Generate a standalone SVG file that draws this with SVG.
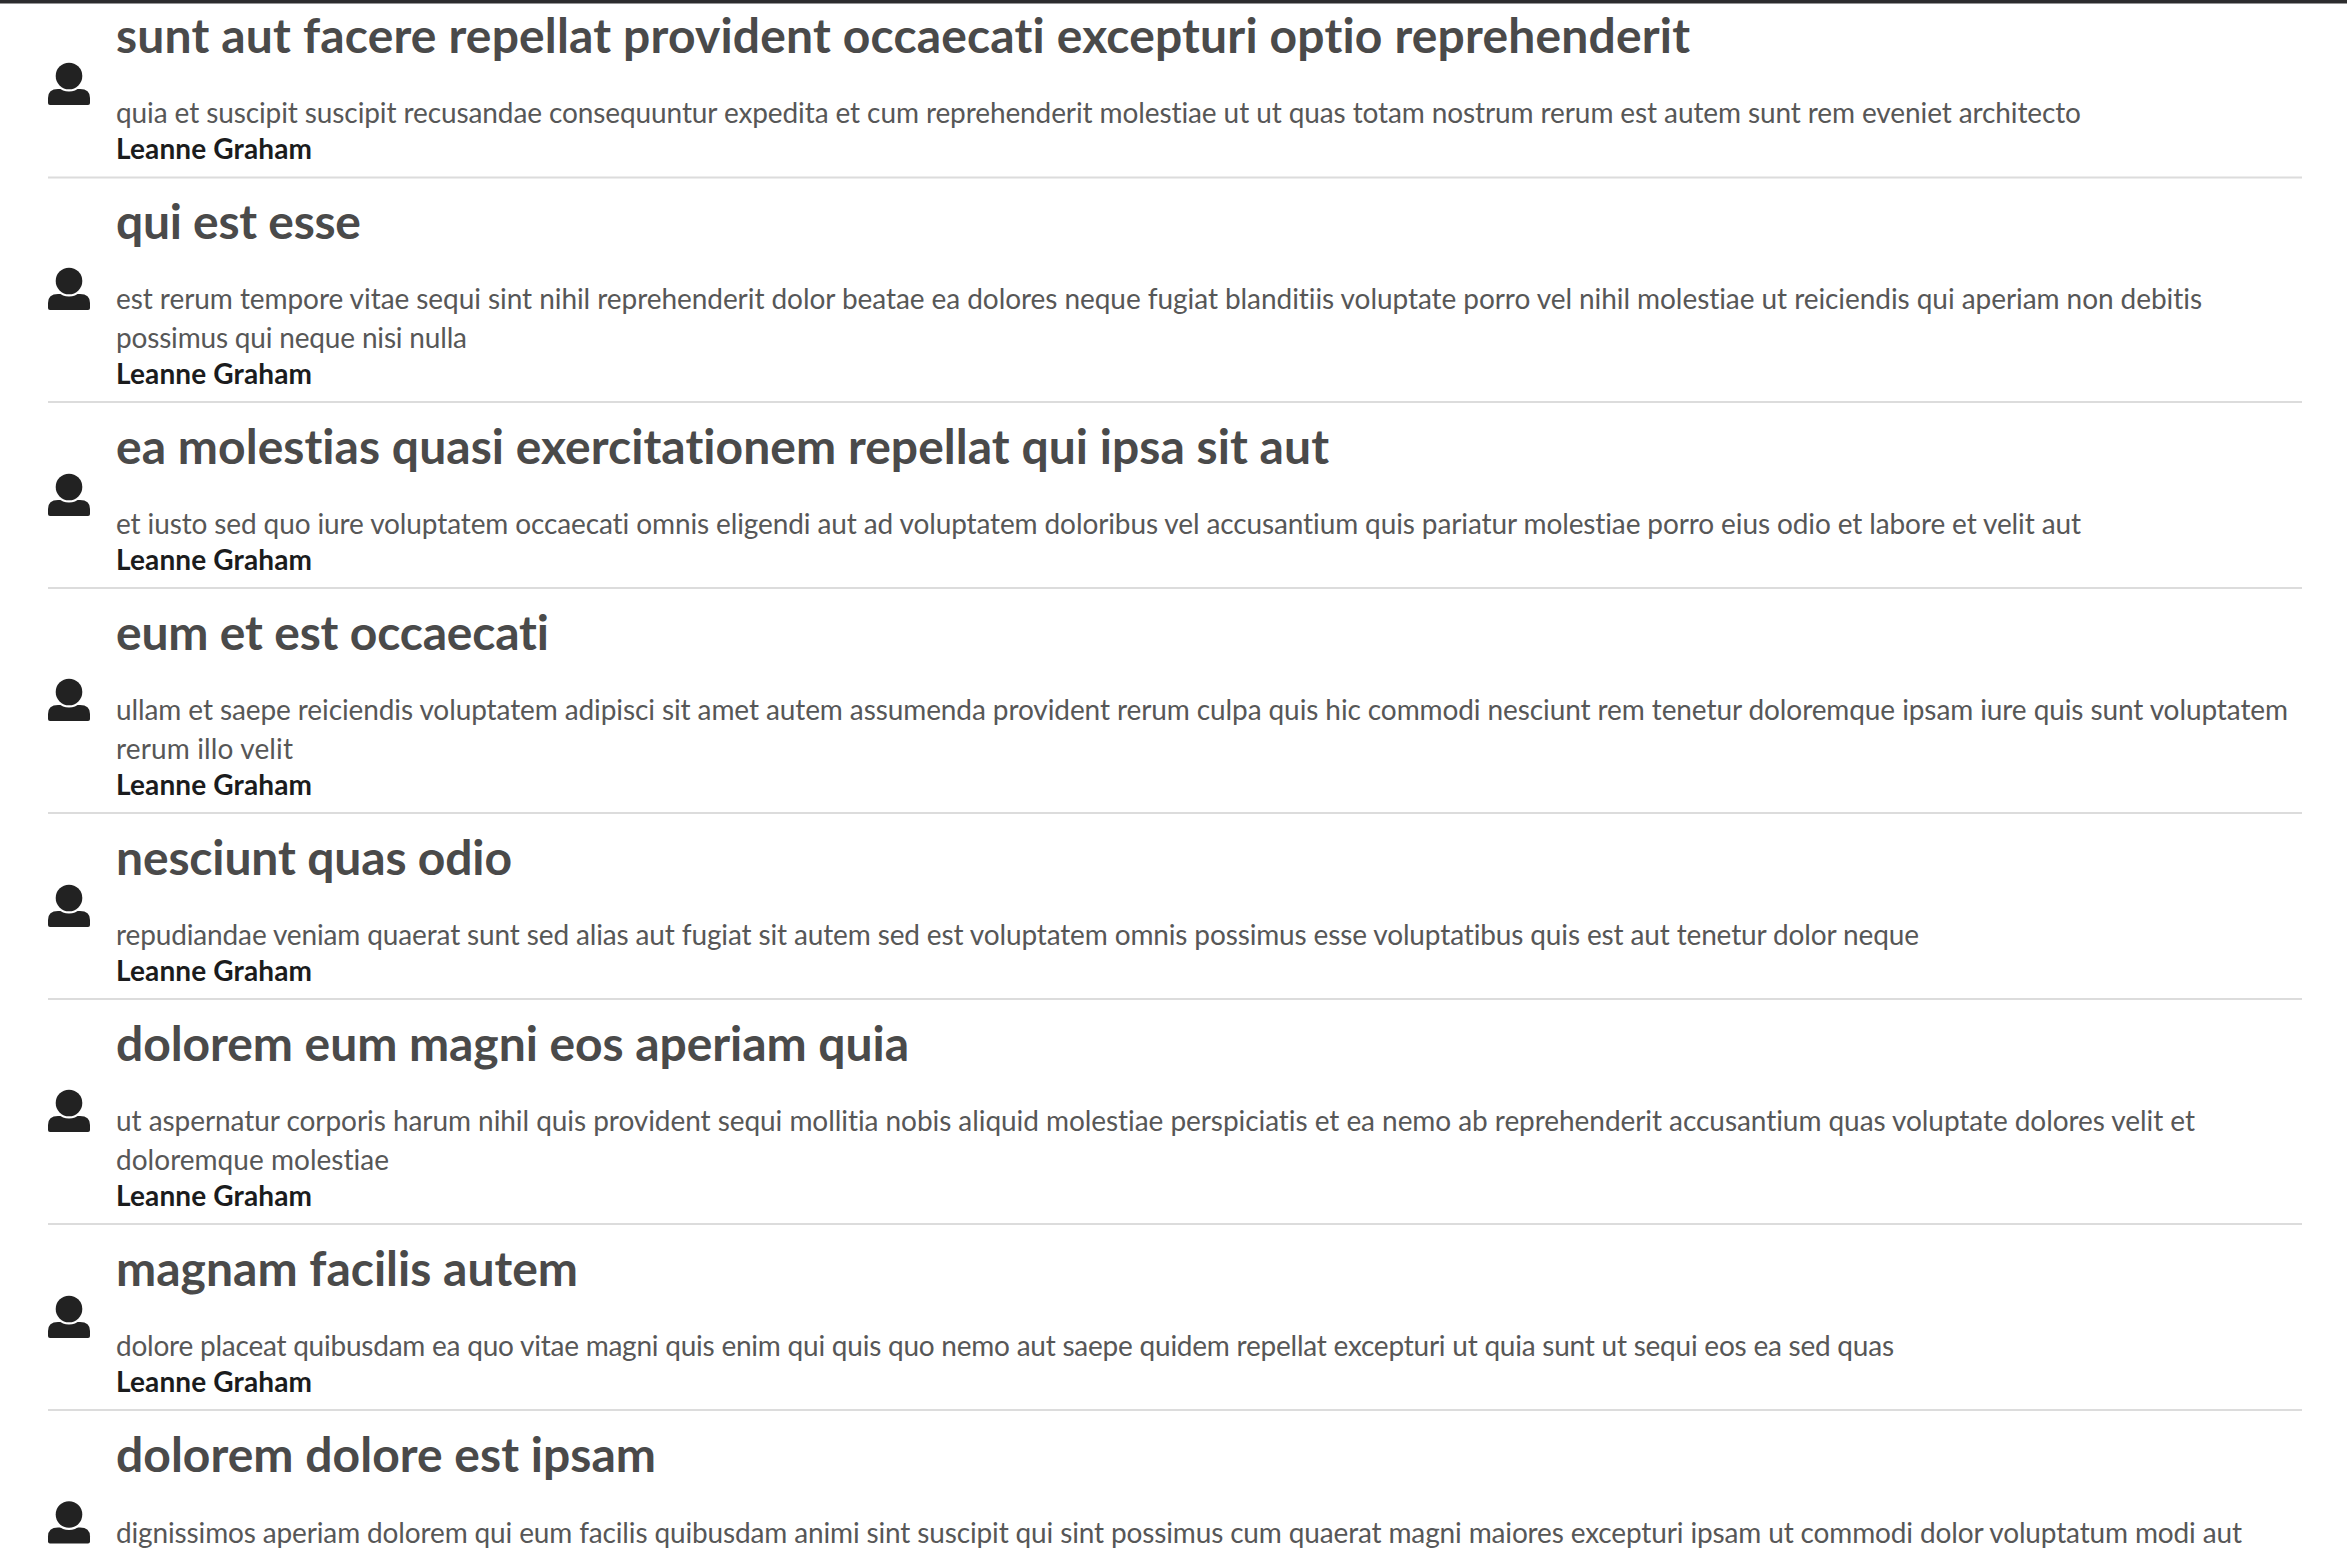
<svg xmlns="http://www.w3.org/2000/svg" width="2347" height="1560" viewBox="0 0 2347 1560">
<style>
text{font-family:Lato,"Open Sans","Liberation Sans",sans-serif;font-variant-ligatures:none}
.t{font-size:48px;font-weight:700;fill:#4a4a4a}
.b{font-size:28px;font-weight:400;fill:#575757}
.a{font-size:28px;font-weight:700;fill:#1b1c1d}
.s{fill:#dcdcdc}
</style>
<defs>
<g id="user"><path d="M48 103V98Q48 89 58 89H80Q90 89 90 98V103Q90 105 88 105H50Q48 105 48 103Z" fill="#222"/><circle cx="69" cy="76" r="15.500" fill="#fff"/><circle cx="69" cy="76" r="13.300" fill="#222"/></g>
</defs>
<rect width="2347" height="1560" fill="#fff"/>
<rect id="topbar" width="2347" height="3.500" fill="#2c2c2e"/>
<g id="item1"><use href="#user"/><text class="t" x="116" y="53" textLength="1574">sunt aut facere repellat provident occaecati excepturi optio reprehenderit</text><text class="b" x="116" y="123" textLength="1965">quia et suscipit suscipit recusandae consequuntur expedita et cum reprehenderit molestiae ut ut quas totam nostrum rerum est autem sunt rem eveniet architecto</text><text class="a" x="116" y="159" textLength="196">Leanne Graham</text><rect class="s" x="48" y="176.500" width="2254" height="2"/></g>
<g id="item2"><use href="#user" y="205"/><text class="t" x="116" y="239" textLength="245">qui est esse</text><text class="b" x="116" y="309" textLength="2086">est rerum tempore vitae sequi sint nihil reprehenderit dolor beatae ea dolores neque fugiat blanditiis voluptate porro vel nihil molestiae ut reiciendis qui aperiam non debitis</text><text class="b" x="116" y="348" textLength="351">possimus qui neque nisi nulla</text><text class="a" x="116" y="384" textLength="196">Leanne Graham</text><rect class="s" x="48" y="401" width="2254" height="2"/></g>
<g id="item3"><use href="#user" y="411"/><text class="t" x="116" y="464" textLength="1213">ea molestias quasi exercitationem repellat qui ipsa sit aut</text><text class="b" x="116" y="534" textLength="1965">et iusto sed quo iure voluptatem occaecati omnis eligendi aut ad voluptatem doloribus vel accusantium quis pariatur molestiae porro eius odio et labore et velit aut</text><text class="a" x="116" y="570" textLength="196">Leanne Graham</text><rect class="s" x="48" y="587" width="2254" height="2"/></g>
<g id="item4"><use href="#user" y="616"/><text class="t" x="116" y="650" textLength="433">eum et est occaecati</text><text class="b" x="116" y="720" textLength="2172">ullam et saepe reiciendis voluptatem adipisci sit amet autem assumenda provident rerum culpa quis hic commodi nesciunt rem tenetur doloremque ipsam iure quis sunt voluptatem</text><text class="b" x="116" y="759" textLength="177">rerum illo velit</text><text class="a" x="116" y="795" textLength="196">Leanne Graham</text><rect class="s" x="48" y="812" width="2254" height="2"/></g>
<g id="item5"><use href="#user" y="822"/><text class="t" x="116" y="875" textLength="396">nesciunt quas odio</text><text class="b" x="116" y="945" textLength="1803">repudiandae veniam quaerat sunt sed alias aut fugiat sit autem sed est voluptatem omnis possimus esse voluptatibus quis est aut tenetur dolor neque</text><text class="a" x="116" y="981" textLength="196">Leanne Graham</text><rect class="s" x="48" y="998" width="2254" height="2"/></g>
<g id="item6"><use href="#user" y="1027"/><text class="t" x="116" y="1061" textLength="793">dolorem eum magni eos aperiam quia</text><text class="b" x="116" y="1131" textLength="2079">ut aspernatur corporis harum nihil quis provident sequi mollitia nobis aliquid molestiae perspiciatis et ea nemo ab reprehenderit accusantium quas voluptate dolores velit et</text><text class="b" x="116" y="1170" textLength="273">doloremque molestiae</text><text class="a" x="116" y="1206" textLength="196">Leanne Graham</text><rect class="s" x="48" y="1223" width="2254" height="2"/></g>
<g id="item7"><use href="#user" y="1233"/><text class="t" x="116" y="1286" textLength="462">magnam facilis autem</text><text class="b" x="116" y="1356" textLength="1778">dolore placeat quibusdam ea quo vitae magni quis enim qui quis quo nemo aut saepe quidem repellat excepturi ut quia sunt ut sequi eos ea sed quas</text><text class="a" x="116" y="1392" textLength="196">Leanne Graham</text><rect class="s" x="48" y="1409" width="2254" height="2"/></g>
<g id="item8"><use href="#user" y="1438.500"/><text class="t" x="116" y="1472" textLength="540">dolorem dolore est ipsam</text><text class="b" x="116" y="1543" textLength="2126">dignissimos aperiam dolorem qui eum facilis quibusdam animi sint suscipit qui sint possimus cum quaerat magni maiores excepturi ipsam ut commodi dolor voluptatum modi aut</text></g>
</svg>
